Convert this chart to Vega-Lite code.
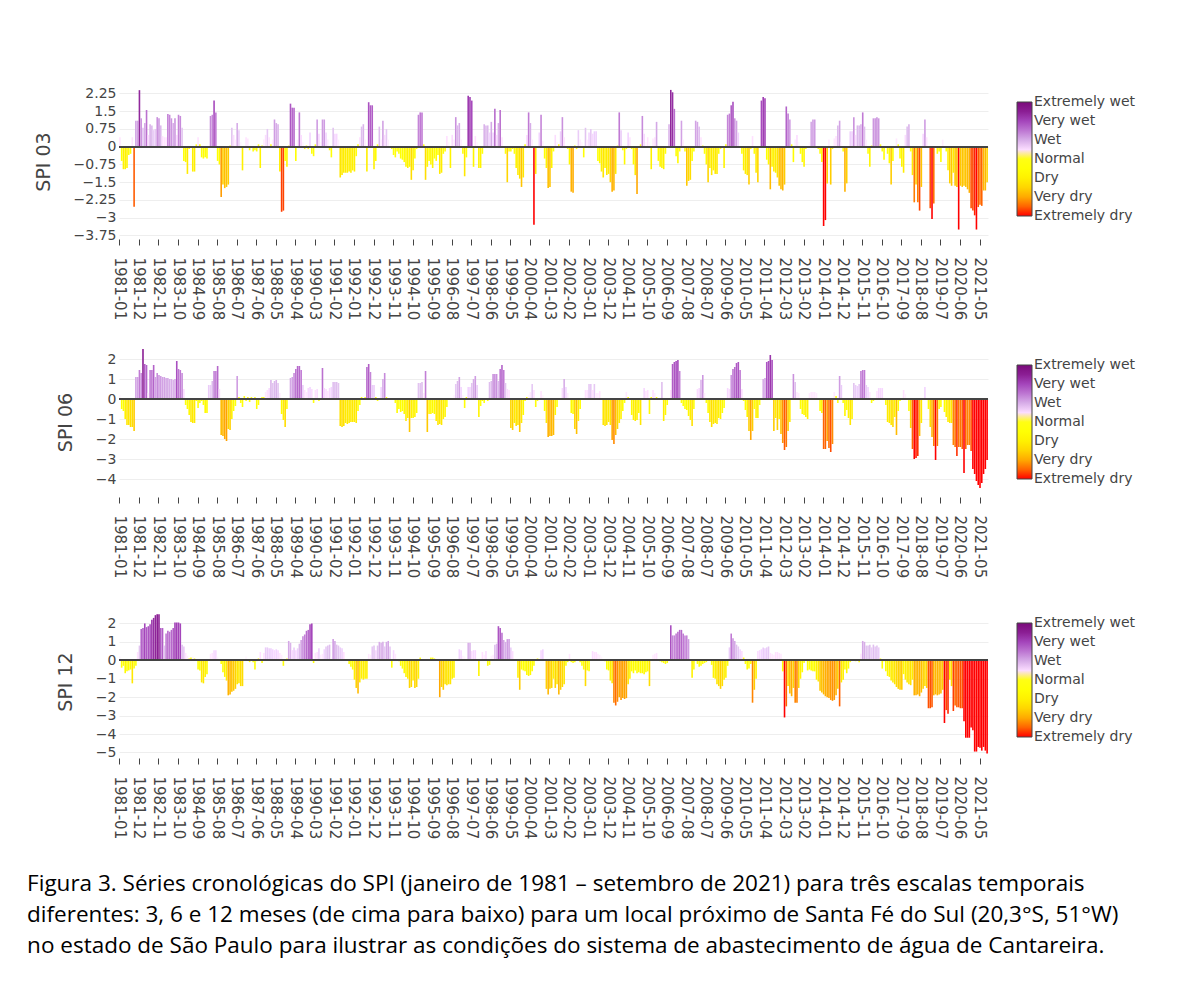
{
"$schema": "https://vega.github.io/schema/vega-lite/v6.json",
"background": "white",
"padding": {"left": 27, "top": 84, "right": 5, "bottom": 5},
"data": {"values": [
{"m":"1981-01","spi03":0.4,"spi06":0.2,"spi12":0.2},
{"m":"1981-02","spi03":-0.6,"spi06":-0.5,"spi12":-0.4},
{"m":"1981-03","spi03":-0.95,"spi06":-0.6,"spi12":-0.3},
{"m":"1981-04","spi03":-0.95,"spi06":-1.0,"spi12":-0.7},
{"m":"1981-05","spi03":-0.9,"spi06":-1.3,"spi12":-0.6},
{"m":"1981-06","spi03":-0.35,"spi06":-1.3,"spi12":-0.55},
{"m":"1981-07","spi03":-0.3,"spi06":-1.4,"spi12":-0.5},
{"m":"1981-08","spi03":0.4,"spi06":-1.4,"spi12":-1.25},
{"m":"1981-09","spi03":-2.54,"spi06":-1.6,"spi12":-0.45},
{"m":"1981-10","spi03":1.1,"spi06":1.1,"spi12":-0.3},
{"m":"1981-11","spi03":1.1,"spi06":1.1,"spi12":0.45},
{"m":"1981-12","spi03":2.39,"spi06":1.45,"spi12":0.8},
{"m":"1982-01","spi03":1.2,"spi06":1.3,"spi12":1.7},
{"m":"1982-02","spi03":0.8,"spi06":2.5,"spi12":1.75},
{"m":"1982-03","spi03":1.0,"spi06":1.75,"spi12":2.0},
{"m":"1982-04","spi03":1.55,"spi06":1.7,"spi12":1.8},
{"m":"1982-05","spi03":0.5,"spi06":0.3,"spi12":1.85},
{"m":"1982-06","spi03":0.95,"spi06":1.45,"spi12":1.95},
{"m":"1982-07","spi03":0.9,"spi06":1.45,"spi12":2.2},
{"m":"1982-08","spi03":0.7,"spi06":1.7,"spi12":2.3},
{"m":"1982-09","spi03":0.75,"spi06":1.1,"spi12":2.45},
{"m":"1982-10","spi03":1.25,"spi06":1.3,"spi12":2.5},
{"m":"1982-11","spi03":1.2,"spi06":1.2,"spi12":2.5},
{"m":"1982-12","spi03":0.9,"spi06":1.15,"spi12":1.75},
{"m":"1983-01","spi03":0.45,"spi06":1.1,"spi12":1.75},
{"m":"1983-02","spi03":0.4,"spi06":1.1,"spi12":0.8},
{"m":"1983-03","spi03":0.4,"spi06":1.05,"spi12":1.45},
{"m":"1983-04","spi03":1.38,"spi06":1.05,"spi12":1.6},
{"m":"1983-05","spi03":1.35,"spi06":1.0,"spi12":1.55},
{"m":"1983-06","spi03":1.2,"spi06":1.0,"spi12":1.65},
{"m":"1983-07","spi03":1.0,"spi06":0.95,"spi12":1.75},
{"m":"1983-08","spi03":1.2,"spi06":1.0,"spi12":2.05},
{"m":"1983-09","spi03":0.5,"spi06":1.9,"spi12":2.05},
{"m":"1983-10","spi03":1.35,"spi06":1.5,"spi12":2.05},
{"m":"1983-11","spi03":1.3,"spi06":1.45,"spi12":2.0},
{"m":"1983-12","spi03":0.8,"spi06":1.3,"spi12":0.85},
{"m":"1984-01","spi03":-0.6,"spi06":0.5,"spi12":0.75},
{"m":"1984-02","spi03":-0.65,"spi06":-0.3,"spi12":0.4},
{"m":"1984-03","spi03":-1.15,"spi06":-0.5,"spi12":0.25},
{"m":"1984-04","spi03":-0.1,"spi06":-0.8,"spi12":0.1},
{"m":"1984-05","spi03":-0.05,"spi06":-1.15,"spi12":0.15},
{"m":"1984-06","spi03":-1.05,"spi06":-1.2,"spi12":0.2},
{"m":"1984-07","spi03":-1.05,"spi06":-1.2,"spi12":0.1},
{"m":"1984-08","spi03":0.1,"spi06":-0.1,"spi12":0.0},
{"m":"1984-09","spi03":0.4,"spi06":-0.45,"spi12":-0.5},
{"m":"1984-10","spi03":0.1,"spi06":-0.2,"spi12":-0.55},
{"m":"1984-11","spi03":-0.45,"spi06":-0.1,"spi12":-1.2},
{"m":"1984-12","spi03":-0.5,"spi06":-0.3,"spi12":-1.25},
{"m":"1985-01","spi03":-0.45,"spi06":-0.7,"spi12":-0.9},
{"m":"1985-02","spi03":-0.5,"spi06":-0.7,"spi12":-0.75},
{"m":"1985-03","spi03":-0.05,"spi06":0.7,"spi12":0.0},
{"m":"1985-04","spi03":1.3,"spi06":0.7,"spi12":0.35},
{"m":"1985-05","spi03":1.35,"spi06":0.9,"spi12":0.4},
{"m":"1985-06","spi03":1.95,"spi06":1.4,"spi12":0.55},
{"m":"1985-07","spi03":1.45,"spi06":1.4,"spi12":0.55},
{"m":"1985-08","spi03":-0.6,"spi06":1.65,"spi12":0.2},
{"m":"1985-09","spi03":-0.75,"spi06":0.5,"spi12":0.0},
{"m":"1985-10","spi03":-2.13,"spi06":-1.8,"spi12":-0.2},
{"m":"1985-11","spi03":-1.6,"spi06":-1.85,"spi12":-0.65},
{"m":"1985-12","spi03":-1.75,"spi06":-2.0,"spi12":-0.9},
{"m":"1986-01","spi03":-1.7,"spi06":-2.1,"spi12":-1.1},
{"m":"1986-02","spi03":-1.6,"spi06":-1.5,"spi12":-1.9},
{"m":"1986-03","spi03":0.05,"spi06":-1.55,"spi12":-1.85},
{"m":"1986-04","spi03":0.8,"spi06":-1.0,"spi12":-1.7},
{"m":"1986-05","spi03":0.5,"spi06":-0.6,"spi12":-1.65},
{"m":"1986-06","spi03":0.3,"spi06":-0.35,"spi12":-1.55},
{"m":"1986-07","spi03":1.0,"spi06":1.15,"spi12":-1.3},
{"m":"1986-08","spi03":0.7,"spi06":0.1,"spi12":-1.25},
{"m":"1986-09","spi03":0.2,"spi06":-0.2,"spi12":-1.4},
{"m":"1986-10","spi03":-1.0,"spi06":-0.4,"spi12":-1.4},
{"m":"1986-11","spi03":0.0,"spi06":0.15,"spi12":0.0},
{"m":"1986-12","spi03":0.4,"spi06":-0.1,"spi12":0.2},
{"m":"1987-01","spi03":0.35,"spi06":0.1,"spi12":0.0},
{"m":"1987-02","spi03":-0.15,"spi06":-0.15,"spi12":-0.1},
{"m":"1987-03","spi03":0.0,"spi06":0.1,"spi12":0.05},
{"m":"1987-04","spi03":-0.2,"spi06":-0.05,"spi12":-0.1},
{"m":"1987-05","spi03":-0.15,"spi06":0.1,"spi12":-0.5},
{"m":"1987-06","spi03":-0.2,"spi06":-0.5,"spi12":-0.05},
{"m":"1987-07","spi03":0.1,"spi06":-0.3,"spi12":0.1},
{"m":"1987-08","spi03":-0.9,"spi06":0.0,"spi12":0.45},
{"m":"1987-09","spi03":0.05,"spi06":0.1,"spi12":-0.15},
{"m":"1987-10","spi03":0.3,"spi06":0.1,"spi12":0.4},
{"m":"1987-11","spi03":0.5,"spi06":0.35,"spi12":0.7},
{"m":"1987-12","spi03":0.75,"spi06":0.45,"spi12":0.7},
{"m":"1988-01","spi03":0.4,"spi06":0.55,"spi12":0.65},
{"m":"1988-02","spi03":0.1,"spi06":0.95,"spi12":0.65},
{"m":"1988-03","spi03":0.3,"spi06":0.8,"spi12":0.6},
{"m":"1988-04","spi03":1.15,"spi06":0.9,"spi12":0.55},
{"m":"1988-05","spi03":1.0,"spi06":0.95,"spi12":0.6},
{"m":"1988-06","spi03":0.95,"spi06":0.8,"spi12":0.55},
{"m":"1988-07","spi03":-1.05,"spi06":0.3,"spi12":0.4},
{"m":"1988-08","spi03":-2.75,"spi06":-0.75,"spi12":0.3},
{"m":"1988-09","spi03":-2.7,"spi06":-1.05,"spi12":-0.3},
{"m":"1988-10","spi03":-0.6,"spi06":-1.4,"spi12":0.0},
{"m":"1988-11","spi03":-0.85,"spi06":-0.5,"spi12":0.1},
{"m":"1988-12","spi03":0.05,"spi06":0.0,"spi12":1.05},
{"m":"1989-01","spi03":1.82,"spi06":1.05,"spi12":0.95},
{"m":"1989-02","spi03":1.65,"spi06":1.1,"spi12":0.55},
{"m":"1989-03","spi03":1.65,"spi06":1.3,"spi12":0.7},
{"m":"1989-04","spi03":-0.6,"spi06":1.5,"spi12":0.55},
{"m":"1989-05","spi03":0.3,"spi06":1.65,"spi12":0.65},
{"m":"1989-06","spi03":1.45,"spi06":1.65,"spi12":0.9},
{"m":"1989-07","spi03":0.5,"spi06":1.45,"spi12":1.1},
{"m":"1989-08","spi03":0.2,"spi06":0.7,"spi12":1.3},
{"m":"1989-09","spi03":-0.1,"spi06":0.45,"spi12":1.4},
{"m":"1989-10","spi03":0.05,"spi06":0.35,"spi12":1.6},
{"m":"1989-11","spi03":-0.1,"spi06":0.55,"spi12":1.65},
{"m":"1989-12","spi03":0.6,"spi06":0.6,"spi12":1.95},
{"m":"1990-01","spi03":-0.3,"spi06":0.5,"spi12":2.0},
{"m":"1990-02","spi03":-0.4,"spi06":-0.2,"spi12":-0.15},
{"m":"1990-03","spi03":0.1,"spi06":0.45,"spi12":0.4},
{"m":"1990-04","spi03":1.15,"spi06":0.5,"spi12":0.45},
{"m":"1990-05","spi03":0.55,"spi06":-0.1,"spi12":0.65},
{"m":"1990-06","spi03":0.2,"spi06":-0.05,"spi12":0.3},
{"m":"1990-07","spi03":1.15,"spi06":1.55,"spi12":0.35},
{"m":"1990-08","spi03":1.15,"spi06":0.55,"spi12":0.6},
{"m":"1990-09","spi03":0.6,"spi06":0.5,"spi12":0.75},
{"m":"1990-10","spi03":0.3,"spi06":0.4,"spi12":0.8},
{"m":"1990-11","spi03":-0.15,"spi06":0.55,"spi12":0.85},
{"m":"1990-12","spi03":-0.45,"spi06":0.6,"spi12":0.2},
{"m":"1991-01","spi03":0.8,"spi06":0.85,"spi12":1.15},
{"m":"1991-02","spi03":0.55,"spi06":0.85,"spi12":1.05},
{"m":"1991-03","spi03":0.55,"spi06":0.85,"spi12":0.85},
{"m":"1991-04","spi03":0.3,"spi06":0.8,"spi12":0.8},
{"m":"1991-05","spi03":-1.3,"spi06":-1.35,"spi12":0.7},
{"m":"1991-06","spi03":-1.2,"spi06":-1.4,"spi12":0.65},
{"m":"1991-07","spi03":-1.1,"spi06":-1.35,"spi12":0.45},
{"m":"1991-08","spi03":-1.1,"spi06":-1.2,"spi12":0.0},
{"m":"1991-09","spi03":-1.1,"spi06":-1.25,"spi12":0.0},
{"m":"1991-10","spi03":-1.05,"spi06":-1.2,"spi12":-0.2},
{"m":"1991-11","spi03":-1.1,"spi06":-1.15,"spi12":-0.35},
{"m":"1991-12","spi03":-1.0,"spi06":-1.15,"spi12":-0.5},
{"m":"1992-01","spi03":-1.05,"spi06":-1.15,"spi12":-1.05},
{"m":"1992-02","spi03":-0.4,"spi06":-1.2,"spi12":-1.5},
{"m":"1992-03","spi03":0.1,"spi06":-0.6,"spi12":-1.8},
{"m":"1992-04","spi03":0.4,"spi06":-0.3,"spi12":-1.2},
{"m":"1992-05","spi03":0.85,"spi06":0.1,"spi12":-1.0},
{"m":"1992-06","spi03":0.95,"spi06":0.0,"spi12":-1.05},
{"m":"1992-07","spi03":0.3,"spi06":0.1,"spi12":-1.0},
{"m":"1992-08","spi03":-1.05,"spi06":1.6,"spi12":-1.0},
{"m":"1992-09","spi03":1.88,"spi06":1.75,"spi12":0.35},
{"m":"1992-10","spi03":1.75,"spi06":1.35,"spi12":0.3},
{"m":"1992-11","spi03":1.75,"spi06":0.7,"spi12":0.75},
{"m":"1992-12","spi03":-0.95,"spi06":0.7,"spi12":0.8},
{"m":"1993-01","spi03":-0.6,"spi06":0.1,"spi12":0.55},
{"m":"1993-02","spi03":0.1,"spi06":-0.1,"spi12":0.8},
{"m":"1993-03","spi03":0.85,"spi06":0.0,"spi12":1.0},
{"m":"1993-04","spi03":0.3,"spi06":0.6,"spi12":0.95},
{"m":"1993-05","spi03":1.1,"spi06":1.0,"spi12":1.0},
{"m":"1993-06","spi03":0.5,"spi06":1.3,"spi12":0.75},
{"m":"1993-07","spi03":0.75,"spi06":0.1,"spi12":1.0},
{"m":"1993-08","spi03":0.3,"spi06":0.0,"spi12":1.05},
{"m":"1993-09","spi03":0.0,"spi06":-0.05,"spi12":0.75},
{"m":"1993-10","spi03":-0.1,"spi06":0.0,"spi12":-0.4},
{"m":"1993-11","spi03":-0.35,"spi06":0.0,"spi12":0.55},
{"m":"1993-12","spi03":-0.45,"spi06":-0.2,"spi12":0.35},
{"m":"1994-01","spi03":-0.2,"spi06":-0.7,"spi12":0.0},
{"m":"1994-02","spi03":-0.3,"spi06":-0.5,"spi12":-0.05},
{"m":"1994-03","spi03":-0.5,"spi06":-0.65,"spi12":-0.3},
{"m":"1994-04","spi03":-0.55,"spi06":-0.6,"spi12":-0.45},
{"m":"1994-05","spi03":-0.65,"spi06":-0.75,"spi12":-0.7},
{"m":"1994-06","spi03":-0.85,"spi06":-1.1,"spi12":-0.9},
{"m":"1994-07","spi03":-0.9,"spi06":-0.95,"spi12":-1.0},
{"m":"1994-08","spi03":-0.85,"spi06":-1.65,"spi12":-1.5},
{"m":"1994-09","spi03":-1.4,"spi06":-0.95,"spi12":-1.45},
{"m":"1994-10","spi03":-1.0,"spi06":-0.95,"spi12":-1.1},
{"m":"1994-11","spi03":-0.5,"spi06":-0.9,"spi12":-1.5},
{"m":"1994-12","spi03":-0.1,"spi06":-0.7,"spi12":-1.45},
{"m":"1995-01","spi03":1.35,"spi06":0.8,"spi12":-1.0},
{"m":"1995-02","spi03":1.45,"spi06":0.8,"spi12":0.15},
{"m":"1995-03","spi03":1.45,"spi06":0.85,"spi12":0.0},
{"m":"1995-04","spi03":0.1,"spi06":0.3,"spi12":0.0},
{"m":"1995-05","spi03":-1.4,"spi06":1.4,"spi12":0.0},
{"m":"1995-06","spi03":-0.85,"spi06":-1.65,"spi12":0.0},
{"m":"1995-07","spi03":-0.6,"spi06":-0.75,"spi12":0.0},
{"m":"1995-08","spi03":-0.75,"spi06":-0.75,"spi12":0.15},
{"m":"1995-09","spi03":-0.9,"spi06":-0.7,"spi12":0.15},
{"m":"1995-10","spi03":-0.5,"spi06":-0.75,"spi12":0.1},
{"m":"1995-11","spi03":-0.6,"spi06":-1.1,"spi12":0.05},
{"m":"1995-12","spi03":-0.35,"spi06":-1.3,"spi12":0.0},
{"m":"1996-01","spi03":-1.15,"spi06":-1.25,"spi12":-2.0},
{"m":"1996-02","spi03":-1.1,"spi06":-1.3,"spi12":-1.45},
{"m":"1996-03","spi03":-0.3,"spi06":-1.0,"spi12":-1.6},
{"m":"1996-04","spi03":-0.2,"spi06":-0.9,"spi12":-1.3},
{"m":"1996-05","spi03":0.45,"spi06":-0.4,"spi12":-1.35},
{"m":"1996-06","spi03":0.2,"spi06":0.0,"spi12":-1.3},
{"m":"1996-07","spi03":-0.9,"spi06":0.0,"spi12":-1.3},
{"m":"1996-08","spi03":0.5,"spi06":0.0,"spi12":-1.0},
{"m":"1996-09","spi03":0.3,"spi06":0.2,"spi12":-0.95},
{"m":"1996-10","spi03":1.25,"spi06":0.75,"spi12":0.0},
{"m":"1996-11","spi03":0.9,"spi06":0.9,"spi12":0.0},
{"m":"1996-12","spi03":1.0,"spi06":1.1,"spi12":0.6},
{"m":"1997-01","spi03":0.3,"spi06":0.6,"spi12":0.55},
{"m":"1997-02","spi03":-0.3,"spi06":0.2,"spi12":0.25},
{"m":"1997-03","spi03":-1.25,"spi06":-0.45,"spi12":0.2},
{"m":"1997-04","spi03":-0.45,"spi06":0.1,"spi12":0.0},
{"m":"1997-05","spi03":2.15,"spi06":0.6,"spi12":0.95},
{"m":"1997-06","spi03":2.1,"spi06":0.6,"spi12":0.95},
{"m":"1997-07","spi03":1.95,"spi06":0.8,"spi12":0.5},
{"m":"1997-08","spi03":-0.85,"spi06":1.0,"spi12":0.55},
{"m":"1997-09","spi03":0.45,"spi06":1.15,"spi12":0.55},
{"m":"1997-10","spi03":0.2,"spi06":0.7,"spi12":0.0},
{"m":"1997-11","spi03":-0.9,"spi06":-0.9,"spi12":-0.85},
{"m":"1997-12","spi03":-0.9,"spi06":-0.35,"spi12":0.0},
{"m":"1998-01","spi03":-0.3,"spi06":-0.1,"spi12":0.45},
{"m":"1998-02","spi03":0.95,"spi06":-0.2,"spi12":0.3},
{"m":"1998-03","spi03":0.9,"spi06":0.0,"spi12":0.5},
{"m":"1998-04","spi03":0.9,"spi06":-0.1,"spi12":-0.3},
{"m":"1998-05","spi03":0.6,"spi06":0.85,"spi12":-0.25},
{"m":"1998-06","spi03":1.05,"spi06":0.9,"spi12":0.25},
{"m":"1998-07","spi03":0.6,"spi06":1.25,"spi12":0.3},
{"m":"1998-08","spi03":1.6,"spi06":1.25,"spi12":0.85},
{"m":"1998-09","spi03":0.5,"spi06":1.25,"spi12":0.9},
{"m":"1998-10","spi03":1.0,"spi06":0.9,"spi12":1.85},
{"m":"1998-11","spi03":1.55,"spi06":1.5,"spi12":1.75},
{"m":"1998-12","spi03":0.4,"spi06":1.7,"spi12":1.5},
{"m":"1999-01","spi03":0.0,"spi06":1.45,"spi12":1.1},
{"m":"1999-02","spi03":-0.3,"spi06":0.8,"spi12":1.0},
{"m":"1999-03","spi03":-1.5,"spi06":0.5,"spi12":1.15},
{"m":"1999-04","spi03":-0.2,"spi06":0.45,"spi12":1.15},
{"m":"1999-05","spi03":-0.2,"spi06":-1.45,"spi12":0.7},
{"m":"1999-06","spi03":-0.1,"spi06":-1.55,"spi12":0.5},
{"m":"1999-07","spi03":-0.3,"spi06":-1.2,"spi12":0.0},
{"m":"1999-08","spi03":-0.9,"spi06":-1.35,"spi12":0.0},
{"m":"1999-09","spi03":-1.2,"spi06":-1.3,"spi12":-0.95},
{"m":"1999-10","spi03":-1.35,"spi06":-1.65,"spi12":-1.6},
{"m":"1999-11","spi03":-1.7,"spi06":-1.2,"spi12":-0.5},
{"m":"1999-12","spi03":-1.3,"spi06":-0.8,"spi12":-0.55},
{"m":"2000-01","spi03":0.1,"spi06":-0.1,"spi12":-0.6},
{"m":"2000-02","spi03":0.5,"spi06":0.1,"spi12":-0.8},
{"m":"2000-03","spi03":1.45,"spi06":0.2,"spi12":-0.85},
{"m":"2000-04","spi03":1.0,"spi06":0.35,"spi12":-0.8},
{"m":"2000-05","spi03":0.3,"spi06":0.75,"spi12":-0.6},
{"m":"2000-06","spi03":-3.3,"spi06":0.45,"spi12":-0.3},
{"m":"2000-07","spi03":-1.15,"spi06":-0.4,"spi12":0.0},
{"m":"2000-08","spi03":0.0,"spi06":-0.1,"spi12":0.1},
{"m":"2000-09","spi03":0.6,"spi06":0.0,"spi12":0.0},
{"m":"2000-10","spi03":1.35,"spi06":0.4,"spi12":0.55},
{"m":"2000-11","spi03":0.25,"spi06":0.2,"spi12":0.6},
{"m":"2000-12","spi03":-0.5,"spi06":-0.6,"spi12":0.0},
{"m":"2001-01","spi03":-0.9,"spi06":-1.2,"spi12":-1.55},
{"m":"2001-02","spi03":-1.75,"spi06":-1.9,"spi12":-1.85},
{"m":"2001-03","spi03":-1.7,"spi06":-1.85,"spi12":-1.55},
{"m":"2001-04","spi03":-0.9,"spi06":-1.85,"spi12":-1.5},
{"m":"2001-05","spi03":-0.2,"spi06":-1.8,"spi12":-1.0},
{"m":"2001-06","spi03":0.5,"spi06":-0.8,"spi12":-1.5},
{"m":"2001-07","spi03":0.2,"spi06":-0.4,"spi12":-1.3},
{"m":"2001-08","spi03":0.1,"spi06":0.0,"spi12":-1.85},
{"m":"2001-09","spi03":0.65,"spi06":0.0,"spi12":-1.6},
{"m":"2001-10","spi03":1.25,"spi06":0.55,"spi12":-1.45},
{"m":"2001-11","spi03":0.4,"spi06":1.0,"spi12":-1.3},
{"m":"2001-12","spi03":0.0,"spi06":0.6,"spi12":-0.3},
{"m":"2002-01","spi03":-0.1,"spi06":0.3,"spi12":-0.1},
{"m":"2002-02","spi03":-0.75,"spi06":0.0,"spi12":0.35},
{"m":"2002-03","spi03":-1.9,"spi06":-0.7,"spi12":-0.1},
{"m":"2002-04","spi03":-1.95,"spi06":-0.75,"spi12":-0.15},
{"m":"2002-05","spi03":0.05,"spi06":-1.5,"spi12":-0.1},
{"m":"2002-06","spi03":-0.1,"spi06":-1.75,"spi12":0.0},
{"m":"2002-07","spi03":0.7,"spi06":-1.1,"spi12":0.0},
{"m":"2002-08","spi03":0.3,"spi06":-0.5,"spi12":-0.1},
{"m":"2002-09","spi03":0.2,"spi06":0.0,"spi12":-0.3},
{"m":"2002-10","spi03":-0.45,"spi06":0.0,"spi12":-0.5},
{"m":"2002-11","spi03":0.8,"spi06":0.45,"spi12":-1.4},
{"m":"2002-12","spi03":0.3,"spi06":0.45,"spi12":-0.55},
{"m":"2003-01","spi03":0.6,"spi06":0.75,"spi12":-0.6},
{"m":"2003-02","spi03":0.75,"spi06":0.75,"spi12":0.0},
{"m":"2003-03","spi03":0.55,"spi06":0.45,"spi12":0.5},
{"m":"2003-04","spi03":0.65,"spi06":0.75,"spi12":0.45},
{"m":"2003-05","spi03":0.65,"spi06":0.3,"spi12":0.45},
{"m":"2003-06","spi03":-0.6,"spi06":0.3,"spi12":0.35},
{"m":"2003-07","spi03":-0.7,"spi06":0.4,"spi12":0.3},
{"m":"2003-08","spi03":-1.05,"spi06":0.0,"spi12":0.2},
{"m":"2003-09","spi03":-1.3,"spi06":-1.3,"spi12":0.0},
{"m":"2003-10","spi03":-0.9,"spi06":-1.35,"spi12":-0.05},
{"m":"2003-11","spi03":-1.2,"spi06":-1.3,"spi12":-0.5},
{"m":"2003-12","spi03":-1.15,"spi06":-1.15,"spi12":-0.55},
{"m":"2004-01","spi03":-1.5,"spi06":-1.3,"spi12":-1.1},
{"m":"2004-02","spi03":-1.9,"spi06":-2.05,"spi12":-1.25},
{"m":"2004-03","spi03":-1.85,"spi06":-2.25,"spi12":-2.3},
{"m":"2004-04","spi03":-1.15,"spi06":-1.8,"spi12":-2.45},
{"m":"2004-05","spi03":0.05,"spi06":-1.5,"spi12":-2.25},
{"m":"2004-06","spi03":1.45,"spi06":-1.2,"spi12":-2.0},
{"m":"2004-07","spi03":0.7,"spi06":-1.0,"spi12":-2.15},
{"m":"2004-08","spi03":-0.15,"spi06":-0.6,"spi12":-2.05},
{"m":"2004-09","spi03":-0.75,"spi06":-0.2,"spi12":-2.1},
{"m":"2004-10","spi03":-0.1,"spi06":0.35,"spi12":-2.05},
{"m":"2004-11","spi03":0.6,"spi06":0.1,"spi12":-1.3},
{"m":"2004-12","spi03":0.4,"spi06":0.0,"spi12":-1.0},
{"m":"2005-01","spi03":-0.1,"spi06":-0.8,"spi12":-0.6},
{"m":"2005-02","spi03":-0.75,"spi06":-1.05,"spi12":-0.7},
{"m":"2005-03","spi03":-1.2,"spi06":-1.1,"spi12":-0.55},
{"m":"2005-04","spi03":-2.0,"spi06":-1.05,"spi12":-0.7},
{"m":"2005-05","spi03":0.0,"spi06":-0.7,"spi12":-0.65},
{"m":"2005-06","spi03":0.1,"spi06":-1.3,"spi12":-0.7},
{"m":"2005-07","spi03":1.3,"spi06":0.0,"spi12":-0.7},
{"m":"2005-08","spi03":0.55,"spi06":0.55,"spi12":-0.75},
{"m":"2005-09","spi03":0.2,"spi06":0.4,"spi12":-0.65},
{"m":"2005-10","spi03":0.4,"spi06":0.45,"spi12":-0.6},
{"m":"2005-11","spi03":0.2,"spi06":-0.75,"spi12":-1.4},
{"m":"2005-12","spi03":-0.95,"spi06":0.1,"spi12":0.0},
{"m":"2006-01","spi03":0.35,"spi06":0.45,"spi12":0.3},
{"m":"2006-02","spi03":0.4,"spi06":0.3,"spi12":0.35},
{"m":"2006-03","spi03":1.05,"spi06":0.1,"spi12":0.4},
{"m":"2006-04","spi03":-0.6,"spi06":0.0,"spi12":0.0},
{"m":"2006-05","spi03":-0.85,"spi06":0.0,"spi12":-0.05},
{"m":"2006-06","spi03":-0.9,"spi06":0.85,"spi12":-0.1},
{"m":"2006-07","spi03":-0.95,"spi06":-1.1,"spi12":-0.15},
{"m":"2006-08","spi03":-0.3,"spi06":-0.8,"spi12":-0.2},
{"m":"2006-09","spi03":0.0,"spi06":-0.3,"spi12":-0.15},
{"m":"2006-10","spi03":0.95,"spi06":0.0,"spi12":0.0},
{"m":"2006-11","spi03":2.4,"spi06":0.45,"spi12":1.9},
{"m":"2006-12","spi03":2.3,"spi06":1.75,"spi12":1.35},
{"m":"2007-01","spi03":1.6,"spi06":1.85,"spi12":1.35},
{"m":"2007-02","spi03":-0.4,"spi06":1.9,"spi12":1.45},
{"m":"2007-03","spi03":-0.7,"spi06":1.95,"spi12":1.55},
{"m":"2007-04","spi03":-0.2,"spi06":1.4,"spi12":1.65},
{"m":"2007-05","spi03":1.1,"spi06":-0.2,"spi12":1.65},
{"m":"2007-06","spi03":0.3,"spi06":-0.35,"spi12":1.45},
{"m":"2007-07","spi03":-0.2,"spi06":-0.5,"spi12":1.35},
{"m":"2007-08","spi03":-1.65,"spi06":-0.55,"spi12":1.35},
{"m":"2007-09","spi03":-1.45,"spi06":-0.85,"spi12":1.15},
{"m":"2007-10","spi03":-1.4,"spi06":-1.05,"spi12":0.05},
{"m":"2007-11","spi03":-0.6,"spi06":-1.35,"spi12":-0.95},
{"m":"2007-12","spi03":-0.2,"spi06":-0.5,"spi12":-0.5},
{"m":"2008-01","spi03":1.1,"spi06":0.0,"spi12":0.0},
{"m":"2008-02","spi03":1.05,"spi06":0.5,"spi12":-0.2},
{"m":"2008-03","spi03":0.85,"spi06":0.55,"spi12":-0.35},
{"m":"2008-04","spi03":0.4,"spi06":0.95,"spi12":-0.3},
{"m":"2008-05","spi03":0.05,"spi06":1.2,"spi12":-0.2},
{"m":"2008-06","spi03":-0.3,"spi06":0.3,"spi12":-0.15},
{"m":"2008-07","spi03":-0.75,"spi06":-0.2,"spi12":-0.1},
{"m":"2008-08","spi03":-1.5,"spi06":-0.7,"spi12":0.0},
{"m":"2008-09","spi03":-0.9,"spi06":-1.15,"spi12":0.0},
{"m":"2008-10","spi03":-1.2,"spi06":-1.4,"spi12":-0.25},
{"m":"2008-11","spi03":-1.0,"spi06":-1.25,"spi12":-0.95},
{"m":"2008-12","spi03":-1.15,"spi06":-1.2,"spi12":-1.0},
{"m":"2009-01","spi03":-1.15,"spi06":-1.25,"spi12":-1.3},
{"m":"2009-02","spi03":-0.3,"spi06":-0.95,"spi12":-1.4},
{"m":"2009-03","spi03":-0.1,"spi06":-1.0,"spi12":-1.55},
{"m":"2009-04","spi03":0.0,"spi06":-0.7,"spi12":-1.4},
{"m":"2009-05","spi03":-0.9,"spi06":-0.45,"spi12":-1.05},
{"m":"2009-06","spi03":0.1,"spi06":0.0,"spi12":-0.95},
{"m":"2009-07","spi03":1.35,"spi06":0.55,"spi12":-0.3},
{"m":"2009-08","spi03":1.4,"spi06":0.5,"spi12":0.7},
{"m":"2009-09","spi03":1.75,"spi06":1.2,"spi12":1.45},
{"m":"2009-10","spi03":1.9,"spi06":1.5,"spi12":1.2},
{"m":"2009-11","spi03":1.2,"spi06":1.6,"spi12":1.05},
{"m":"2009-12","spi03":1.1,"spi06":1.8,"spi12":0.85},
{"m":"2010-01","spi03":0.6,"spi06":1.85,"spi12":0.75},
{"m":"2010-02","spi03":0.0,"spi06":1.45,"spi12":0.6},
{"m":"2010-03","spi03":-0.3,"spi06":0.5,"spi12":0.5},
{"m":"2010-04","spi03":-1.0,"spi06":-0.1,"spi12":0.15},
{"m":"2010-05","spi03":-1.15,"spi06":-0.55,"spi12":-0.2},
{"m":"2010-06","spi03":-1.2,"spi06":-0.9,"spi12":-0.5},
{"m":"2010-07","spi03":-1.6,"spi06":-1.6,"spi12":-0.45},
{"m":"2010-08","spi03":-0.1,"spi06":-2.05,"spi12":-0.2},
{"m":"2010-09","spi03":0.45,"spi06":-1.6,"spi12":-2.3},
{"m":"2010-10","spi03":-0.3,"spi06":-0.5,"spi12":-1.6},
{"m":"2010-11","spi03":-1.1,"spi06":-0.95,"spi12":-1.0},
{"m":"2010-12","spi03":-1.5,"spi06":-0.95,"spi12":0.5},
{"m":"2011-01","spi03":0.0,"spi06":-0.3,"spi12":0.55},
{"m":"2011-02","spi03":1.95,"spi06":0.05,"spi12":0.6},
{"m":"2011-03","spi03":2.1,"spi06":1.0,"spi12":0.7},
{"m":"2011-04","spi03":2.05,"spi06":1.05,"spi12":0.65},
{"m":"2011-05","spi03":-0.55,"spi06":1.85,"spi12":0.7},
{"m":"2011-06","spi03":-0.75,"spi06":1.9,"spi12":0.75},
{"m":"2011-07","spi03":-1.8,"spi06":2.2,"spi12":0.4},
{"m":"2011-08","spi03":-0.85,"spi06":1.95,"spi12":0.35},
{"m":"2011-09","spi03":-1.05,"spi06":-1.6,"spi12":0.3},
{"m":"2011-10","spi03":-1.1,"spi06":-0.95,"spi12":0.45},
{"m":"2011-11","spi03":-1.3,"spi06":-1.55,"spi12":0.45},
{"m":"2011-12","spi03":-1.65,"spi06":-1.0,"spi12":0.4},
{"m":"2012-01","spi03":-1.8,"spi06":-1.75,"spi12":0.35},
{"m":"2012-02","spi03":-1.85,"spi06":-2.2,"spi12":-0.6},
{"m":"2012-03","spi03":-1.6,"spi06":-2.55,"spi12":-3.1},
{"m":"2012-04","spi03":1.7,"spi06":-2.4,"spi12":-2.5},
{"m":"2012-05","spi03":1.4,"spi06":-1.6,"spi12":-1.4},
{"m":"2012-06","spi03":1.15,"spi06":-1.15,"spi12":-1.8},
{"m":"2012-07","spi03":0.1,"spi06":0.0,"spi12":-1.95},
{"m":"2012-08","spi03":-0.65,"spi06":1.25,"spi12":-1.5},
{"m":"2012-09","spi03":0.3,"spi06":0.85,"spi12":-2.3},
{"m":"2012-10","spi03":0.5,"spi06":0.35,"spi12":-2.3},
{"m":"2012-11","spi03":0.2,"spi06":0.3,"spi12":-1.5},
{"m":"2012-12","spi03":-0.3,"spi06":-0.5,"spi12":-1.0},
{"m":"2013-01","spi03":-0.65,"spi06":-0.75,"spi12":-0.65},
{"m":"2013-02","spi03":-0.85,"spi06":-0.8,"spi12":-0.15},
{"m":"2013-03","spi03":-0.1,"spi06":-0.9,"spi12":0.0},
{"m":"2013-04","spi03":0.0,"spi06":-1.0,"spi12":-0.55},
{"m":"2013-05","spi03":0.2,"spi06":0.3,"spi12":-0.5},
{"m":"2013-06","spi03":1.05,"spi06":0.35,"spi12":-0.55},
{"m":"2013-07","spi03":1.15,"spi06":0.35,"spi12":-0.6},
{"m":"2013-08","spi03":1.15,"spi06":0.35,"spi12":-0.6},
{"m":"2013-09","spi03":0.0,"spi06":0.3,"spi12":-1.05},
{"m":"2013-10","spi03":-0.1,"spi06":0.0,"spi12":-1.15},
{"m":"2013-11","spi03":-0.3,"spi06":-0.6,"spi12":-1.65},
{"m":"2013-12","spi03":-0.65,"spi06":-0.7,"spi12":-1.75},
{"m":"2014-01","spi03":-3.35,"spi06":-2.5,"spi12":-1.85},
{"m":"2014-02","spi03":-3.1,"spi06":-2.5,"spi12":-1.95},
{"m":"2014-03","spi03":-1.55,"spi06":-2.1,"spi12":-2.0},
{"m":"2014-04","spi03":0.3,"spi06":-2.45,"spi12":-2.05},
{"m":"2014-05","spi03":-1.6,"spi06":-2.65,"spi12":-2.15},
{"m":"2014-06","spi03":-0.1,"spi06":-2.25,"spi12":-2.2},
{"m":"2014-07","spi03":0.35,"spi06":0.35,"spi12":-2.15},
{"m":"2014-08","spi03":0.45,"spi06":0.15,"spi12":-1.9},
{"m":"2014-09","spi03":0.9,"spi06":-0.2,"spi12":-1.55},
{"m":"2014-10","spi03":1.1,"spi06":1.15,"spi12":-2.5},
{"m":"2014-11","spi03":0.2,"spi06":0.7,"spi12":-1.2},
{"m":"2014-12","spi03":-0.2,"spi06":-0.2,"spi12":-1.05},
{"m":"2015-01","spi03":-1.9,"spi06":-0.85,"spi12":-0.5},
{"m":"2015-02","spi03":-1.55,"spi06":-0.55,"spi12":-0.7},
{"m":"2015-03","spi03":0.0,"spi06":-0.95,"spi12":-0.45},
{"m":"2015-04","spi03":0.65,"spi06":-1.3,"spi12":-0.1},
{"m":"2015-05","spi03":0.65,"spi06":-1.0,"spi12":0.0},
{"m":"2015-06","spi03":1.25,"spi06":0.8,"spi12":0.0},
{"m":"2015-07","spi03":0.5,"spi06":0.7,"spi12":-0.05},
{"m":"2015-08","spi03":0.9,"spi06":0.65,"spi12":0.05},
{"m":"2015-09","spi03":0.9,"spi06":0.75,"spi12":-0.1},
{"m":"2015-10","spi03":0.95,"spi06":1.4,"spi12":0.35},
{"m":"2015-11","spi03":1.45,"spi06":1.45,"spi12":1.05},
{"m":"2015-12","spi03":0.85,"spi06":1.45,"spi12":1.0},
{"m":"2016-01","spi03":0.3,"spi06":0.7,"spi12":0.8},
{"m":"2016-02","spi03":-0.3,"spi06":0.6,"spi12":0.8},
{"m":"2016-03","spi03":-0.85,"spi06":0.35,"spi12":0.85},
{"m":"2016-04","spi03":0.05,"spi06":-0.2,"spi12":0.7},
{"m":"2016-05","spi03":1.2,"spi06":-0.1,"spi12":0.85},
{"m":"2016-06","spi03":1.2,"spi06":0.0,"spi12":0.75},
{"m":"2016-07","spi03":1.25,"spi06":0.4,"spi12":0.8},
{"m":"2016-08","spi03":1.2,"spi06":0.55,"spi12":0.7},
{"m":"2016-09","spi03":0.1,"spi06":0.55,"spi12":0.1},
{"m":"2016-10","spi03":-0.2,"spi06":0.55,"spi12":-0.45},
{"m":"2016-11","spi03":-0.55,"spi06":0.0,"spi12":-0.05},
{"m":"2016-12","spi03":0.0,"spi06":-0.3,"spi12":-0.6},
{"m":"2017-01","spi03":-0.3,"spi06":-1.15,"spi12":-0.85},
{"m":"2017-02","spi03":-0.7,"spi06":-1.2,"spi12":-0.9},
{"m":"2017-03","spi03":-1.6,"spi06":-1.3,"spi12":-1.1},
{"m":"2017-04","spi03":-0.6,"spi06":-1.4,"spi12":-1.2},
{"m":"2017-05","spi03":0.0,"spi06":-0.9,"spi12":-1.3},
{"m":"2017-06","spi03":0.35,"spi06":-1.8,"spi12":-1.45},
{"m":"2017-07","spi03":0.1,"spi06":-0.6,"spi12":-1.55},
{"m":"2017-08","spi03":-0.5,"spi06":-0.1,"spi12":-1.6},
{"m":"2017-09","spi03":-0.85,"spi06":0.0,"spi12":-1.6},
{"m":"2017-10","spi03":-1.1,"spi06":0.45,"spi12":-0.75},
{"m":"2017-11","spi03":0.5,"spi06":0.25,"spi12":-1.05},
{"m":"2017-12","spi03":0.85,"spi06":0.0,"spi12":-1.2},
{"m":"2018-01","spi03":0.95,"spi06":-0.6,"spi12":-1.3},
{"m":"2018-02","spi03":-0.2,"spi06":-1.45,"spi12":-1.35},
{"m":"2018-03","spi03":-1.2,"spi06":-2.5,"spi12":-1.05},
{"m":"2018-04","spi03":-2.35,"spi06":-3.0,"spi12":-1.9},
{"m":"2018-05","spi03":-1.6,"spi06":-2.95,"spi12":-1.9},
{"m":"2018-06","spi03":-2.35,"spi06":-2.85,"spi12":-1.85},
{"m":"2018-07","spi03":-2.7,"spi06":-1.85,"spi12":-1.95},
{"m":"2018-08","spi03":-1.7,"spi06":-1.2,"spi12":-1.75},
{"m":"2018-09","spi03":0.55,"spi06":0.0,"spi12":-1.55},
{"m":"2018-10","spi03":1.15,"spi06":0.6,"spi12":-1.4},
{"m":"2018-11","spi03":0.4,"spi06":0.0,"spi12":-1.5},
{"m":"2018-12","spi03":0.0,"spi06":-0.5,"spi12":-2.6},
{"m":"2019-01","spi03":-2.6,"spi06":-1.4,"spi12":-2.6},
{"m":"2019-02","spi03":-3.05,"spi06":-1.9,"spi12":-2.55},
{"m":"2019-03","spi03":-2.4,"spi06":-2.35,"spi12":-1.9},
{"m":"2019-04","spi03":0.0,"spi06":-3.05,"spi12":-1.85},
{"m":"2019-05","spi03":-0.3,"spi06":-2.35,"spi12":-1.9},
{"m":"2019-06","spi03":-0.2,"spi06":-0.5,"spi12":-1.85},
{"m":"2019-07","spi03":-0.65,"spi06":-0.4,"spi12":-1.8},
{"m":"2019-08","spi03":0.3,"spi06":0.0,"spi12":-1.6},
{"m":"2019-09","spi03":0.0,"spi06":-0.65,"spi12":-3.4},
{"m":"2019-10","spi03":-0.2,"spi06":-0.9,"spi12":-2.7},
{"m":"2019-11","spi03":-1.0,"spi06":-1.15,"spi12":-2.9},
{"m":"2019-12","spi03":-1.55,"spi06":-1.2,"spi12":-1.05},
{"m":"2020-01","spi03":-1.65,"spi06":-1.2,"spi12":-1.4},
{"m":"2020-02","spi03":-1.1,"spi06":-2.3,"spi12":-2.75},
{"m":"2020-03","spi03":-1.65,"spi06":-2.4,"spi12":-2.45},
{"m":"2020-04","spi03":-1.7,"spi06":-2.85,"spi12":-2.55},
{"m":"2020-05","spi03":-3.5,"spi06":-2.4,"spi12":-2.55},
{"m":"2020-06","spi03":-1.65,"spi06":-2.4,"spi12":-2.6},
{"m":"2020-07","spi03":-1.7,"spi06":-2.5,"spi12":-2.6},
{"m":"2020-08","spi03":-1.65,"spi06":-3.7,"spi12":-3.3},
{"m":"2020-09","spi03":-1.7,"spi06":-2.5,"spi12":-4.2},
{"m":"2020-10","spi03":-1.8,"spi06":-2.3,"spi12":-4.2},
{"m":"2020-11","spi03":-1.95,"spi06":-2.3,"spi12":-4.2},
{"m":"2020-12","spi03":-2.6,"spi06":-2.6,"spi12":-3.65},
{"m":"2021-01","spi03":-2.7,"spi06":-3.5,"spi12":-3.8},
{"m":"2021-02","spi03":-2.9,"spi06":-3.75,"spi12":-4.95},
{"m":"2021-03","spi03":-3.5,"spi06":-4.1,"spi12":-4.95},
{"m":"2021-04","spi03":-2.55,"spi06":-4.3,"spi12":-4.7},
{"m":"2021-05","spi03":-2.45,"spi06":-4.45,"spi12":-4.75},
{"m":"2021-06","spi03":-2.5,"spi06":-4.2,"spi12":-4.9},
{"m":"2021-07","spi03":-1.85,"spi06":-3.75,"spi12":-4.7},
{"m":"2021-08","spi03":-1.85,"spi06":-3.5,"spi12":-4.9},
{"m":"2021-09","spi03":-1.5,"spi06":-3.05,"spi12":-5.05}
]},
"vconcat": [
{
"width": 869, "height": 155,
"layer": [
{"mark": {"type": "bar"},
 "encoding": {
  "x": {"field": "m", "type": "ordinal", "sort": null, "scale": {"paddingInner": 0.1, "paddingOuter": 0.05},
        "axis": {"title": null, "values": ["1981-01","1981-12","1982-11","1983-10","1984-09","1985-08","1986-07","1987-06","1988-05","1989-04","1990-03","1991-02","1992-01","1992-12","1993-11","1994-10","1995-09","1996-08","1997-07","1998-06","1999-05","2000-04","2001-03","2002-02","2003-01","2003-12","2004-11","2005-10","2006-09","2007-08","2008-07","2009-06","2010-05","2011-04","2012-03","2013-02","2014-01","2014-12","2015-11","2016-10","2017-09","2018-08","2019-07","2020-06","2021-05"]}},
  "y": {"field": "spi03", "type": "quantitative", "scale": {"domain": [-3.9, 2.65], "nice": false, "zero": false},
        "axis": {"title": "SPI 03", "values": [-3.75, -3, -2.25, -1.5, -0.75, 0, 0.75, 1.5, 2.25], "tickCount": 50, "format": ".3~g", "labelOverlap": false}},
  "color": {"field": "spi03", "type": "quantitative",
     "scale": {"domain": [-3, -2.6, -2.1, -1.75, -1.3, -0.6, 0.2, 0.8, 1.4, 2.0, 2.5, 3], "range": ["#ff0000", "#ff5000", "#ffa000", "#ffc000", "#ffe600", "#ffff00", "#ffffff", "#e2c4f0", "#c27fd6", "#a445bb", "#8b1e94", "#7a0a7a"], "clamp": true},
     "legend": {"values": [-2.999, -2, -1, 0, 1, 2, 2.999], "labelExpr": "datum.value > 2.5 ? 'Extremely wet' : datum.value > 1.5 ? 'Very wet' : datum.value > 0.5 ? 'Wet' : datum.value > -0.5 ? 'Normal' : datum.value > -1.5 ? 'Dry' : datum.value > -2.5 ? 'Very dry' : 'Extremely dry'"}}
 }},
{"mark": {"type": "rule", "color": "#444", "strokeWidth": 1}, "encoding": {"y": {"datum": 0}}}
]
},
{
"width": 869, "height": 150,
"layer": [
{"mark": {"type": "bar"},
 "encoding": {
  "x": {"field": "m", "type": "ordinal", "sort": null, "scale": {"paddingInner": 0.1, "paddingOuter": 0.05},
        "axis": {"title": null, "values": ["1981-01","1981-12","1982-11","1983-10","1984-09","1985-08","1986-07","1987-06","1988-05","1989-04","1990-03","1991-02","1992-01","1992-12","1993-11","1994-10","1995-09","1996-08","1997-07","1998-06","1999-05","2000-04","2001-03","2002-02","2003-01","2003-12","2004-11","2005-10","2006-09","2007-08","2008-07","2009-06","2010-05","2011-04","2012-03","2013-02","2014-01","2014-12","2015-11","2016-10","2017-09","2018-08","2019-07","2020-06","2021-05"]}},
  "y": {"field": "spi06", "type": "quantitative", "scale": {"domain": [-4.9, 2.6], "nice": false, "zero": false},
        "axis": {"title": "SPI 06", "values": [-4, -3, -2, -1, 0, 1, 2], "tickCount": 50, "format": ".3~g", "labelOverlap": false}},
  "color": {"field": "spi06", "type": "quantitative",
     "scale": {"domain": [-3, -2.6, -2.1, -1.75, -1.3, -0.6, 0.2, 0.8, 1.4, 2.0, 2.5, 3], "range": ["#ff0000", "#ff5000", "#ffa000", "#ffc000", "#ffe600", "#ffff00", "#ffffff", "#e2c4f0", "#c27fd6", "#a445bb", "#8b1e94", "#7a0a7a"], "clamp": true},
     "legend": {"values": [-2.999, -2, -1, 0, 1, 2, 2.999], "labelExpr": "datum.value > 2.5 ? 'Extremely wet' : datum.value > 1.5 ? 'Very wet' : datum.value > 0.5 ? 'Wet' : datum.value > -0.5 ? 'Normal' : datum.value > -1.5 ? 'Dry' : datum.value > -2.5 ? 'Very dry' : 'Extremely dry'"}}
 }},
{"mark": {"type": "rule", "color": "#444", "strokeWidth": 1}, "encoding": {"y": {"datum": 0}}}
]
},
{
"width": 869, "height": 153,
"layer": [
{"mark": {"type": "bar"},
 "encoding": {
  "x": {"field": "m", "type": "ordinal", "sort": null, "scale": {"paddingInner": 0.1, "paddingOuter": 0.05},
        "axis": {"title": null, "values": ["1981-01","1981-12","1982-11","1983-10","1984-09","1985-08","1986-07","1987-06","1988-05","1989-04","1990-03","1991-02","1992-01","1992-12","1993-11","1994-10","1995-09","1996-08","1997-07","1998-06","1999-05","2000-04","2001-03","2002-02","2003-01","2003-12","2004-11","2005-10","2006-09","2007-08","2008-07","2009-06","2010-05","2011-04","2012-03","2013-02","2014-01","2014-12","2015-11","2016-10","2017-09","2018-08","2019-07","2020-06","2021-05"]}},
  "y": {"field": "spi12", "type": "quantitative", "scale": {"domain": [-5.3, 3.0], "nice": false, "zero": false},
        "axis": {"title": "SPI 12", "values": [-5, -4, -3, -2, -1, 0, 1, 2], "tickCount": 50, "format": ".3~g", "labelOverlap": false}},
  "color": {"field": "spi12", "type": "quantitative",
     "scale": {"domain": [-3, -2.6, -2.1, -1.75, -1.3, -0.6, 0.2, 0.8, 1.4, 2.0, 2.5, 3], "range": ["#ff0000", "#ff5000", "#ffa000", "#ffc000", "#ffe600", "#ffff00", "#ffffff", "#e2c4f0", "#c27fd6", "#a445bb", "#8b1e94", "#7a0a7a"], "clamp": true},
     "legend": {"values": [-2.999, -2, -1, 0, 1, 2, 2.999], "labelExpr": "datum.value > 2.5 ? 'Extremely wet' : datum.value > 1.5 ? 'Very wet' : datum.value > 0.5 ? 'Wet' : datum.value > -0.5 ? 'Normal' : datum.value > -1.5 ? 'Dry' : datum.value > -2.5 ? 'Very dry' : 'Extremely dry'"}}
 }},
{"mark": {"type": "rule", "color": "#444", "strokeWidth": 1}, "encoding": {"y": {"datum": 0}}}
]
}
],
"spacing": 27,
"resolve": {"scale": {"color": "independent", "y": "independent"}, "legend": {"color": "independent"}},
"title": {
 "text": ["Figura 3. Séries cronológicas do SPI (janeiro de 1981 – setembro de 2021) para três escalas temporais", "diferentes: 3, 6 e 12 meses (de cima para baixo) para um local próximo de Santa Fé do Sul (20,3°S, 51°W)", "no estado de São Paulo para ilustrar as condições do sistema de abastecimento de água de Cantareira."],
 "orient": "bottom", "anchor": "start", "font": "Open Sans", "fontSize": 22.5, "fontWeight": "normal", "color": "#000", "lineHeight": 31, "offset": 34, "dx": -7
},
"config": {
 "view": {"stroke": null},
 "axis": {"labelFont": "DejaVu Sans", "titleFont": "DejaVu Sans", "labelColor": "#444", "titleColor": "#444", "titleFontWeight": "normal"},
 "axisX": {"labelAngle": 90, "labelFontSize": 15, "labelPadding": 12, "tickSize": 6, "tickColor": "#444", "domain": false, "grid": false, "labelOverlap": false},
 "axisY": {"labelFontSize": 14, "labelPadding": 3, "ticks": false, "domain": false, "grid": true, "gridColor": "#eee", "titleFontSize": 19, "titlePadding": 20, "labelOverlap": false},
 "legend": {"title": null, "direction": "vertical", "gradientLength": 114, "gradientThickness": 15, "gradientStrokeColor": "#444", "gradientStrokeWidth": 1, "labelFont": "DejaVu Sans", "labelFontSize": 14, "labelColor": "#444", "labelOffset": 7, "offset": 11, "padding": 18, "labelOverlap": false}
}
}
